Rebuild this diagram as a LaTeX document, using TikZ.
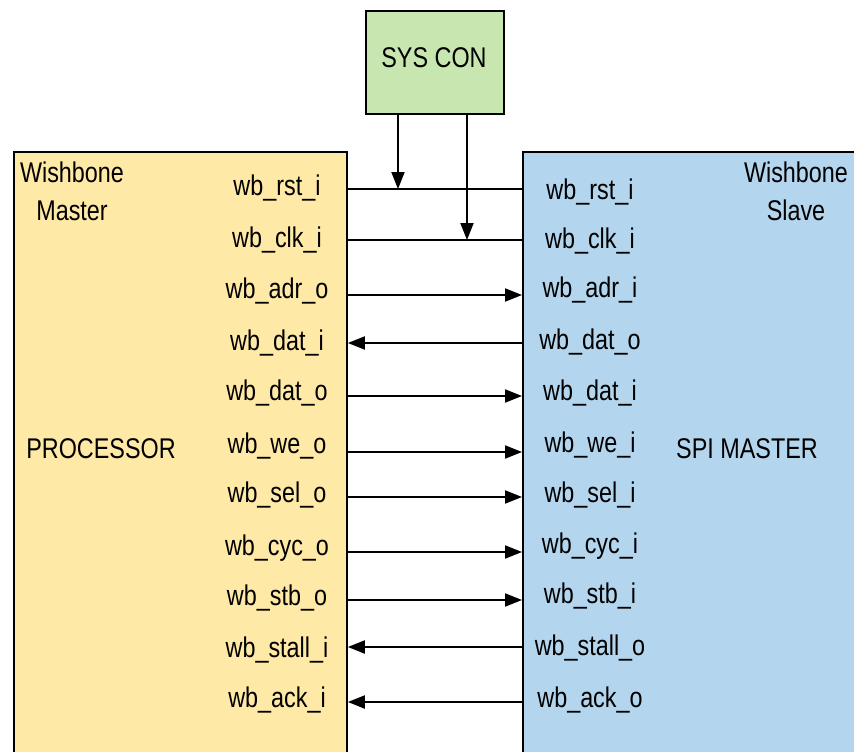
\documentclass[tikz,border=0pt]{standalone}
\usepackage{fontspec}
\setmainfont{Liberation Sans}[FakeStretch=0.82]
\usetikzlibrary{arrows.meta}
\definecolor{masterfill}{HTML}{FFE9A6}
\definecolor{slavefill}{HTML}{B3D5EE}
\definecolor{sysfill}{HTML}{C8E7B0}
\tikzset{
  lbl/.style={inner sep=0pt, anchor=base, font=\fontsize{28.5}{34}\selectfont},
  blk/.style={draw=black, line width=1.8pt, inner sep=0pt, anchor=north west},
  wire/.style={line width=1.9pt},
  arr/.style={wire, -{Triangle[length=17pt,width=13pt]}},
}
\begin{document}
\begin{tikzpicture}[x=1pt,y=-1pt]
\useasboundingbox (0,0) rectangle (854,752);
\clip (0,0) rectangle (854,752);
% blocks
\node[blk, fill=masterfill, minimum width=333pt, minimum height=640pt] (lbox) at (13,151) {};
\node[blk, fill=slavefill, minimum width=360pt, minimum height=640pt] (rbox) at (522,151) {};
\node[blk, fill=sysfill, minimum width=138pt, minimum height=103pt] (sys) at (365,10) {};
\node[lbl] (systxt) at (434,67) {SYS CON};
% titles
\node[lbl] (wm1) at (72,182) {Wishbone};
\node[lbl] (wm2) at (72,220) {Master};
\node[lbl] (ws1) at (796,182) {Wishbone};
\node[lbl] (ws2) at (796,220) {Slave};
\node[lbl] (proc) at (101,458) {PROCESSOR};
\node[lbl] (spi) at (747,458) {SPI MASTER};
% signal labels: left label / left baseline / right label / right baseline
\foreach \lt/\lb/\rt/\rb [count=\i] in {
  wb\_rst\_i/195/wb\_rst\_i/199,
  wb\_clk\_i/247/wb\_clk\_i/248,
  wb\_adr\_o/298/wb\_adr\_i/297,
  wb\_dat\_i/350/wb\_dat\_o/349,
  wb\_dat\_o/400/wb\_dat\_i/400,
  wb\_we\_o/453/wb\_we\_i/452,
  wb\_sel\_o/502/wb\_sel\_i/502,
  wb\_cyc\_o/555/wb\_cyc\_i/553,
  wb\_stb\_o/605/wb\_stb\_i/603,
  wb\_stall\_i/657/wb\_stall\_o/655,
  wb\_ack\_i/707/wb\_ack\_o/707}{
  \node[lbl] (ls\i) at (277,\lb) {\lt};
  \node[lbl] (rs\i) at (590,\rb) {\rt};
}
% connectors
\draw[wire] (lbox.east |- 0,189) -- (rbox.west |- 0,189);
\draw[wire] (lbox.east |- 0,240) -- (rbox.west |- 0,240);
\foreach \ly in {295,396,452,497,552,600}{
  \draw[arr] (lbox.east |- 0,\ly) -- (rbox.west |- 0,\ly);
}
\foreach \ly in {343,647,702}{
  \draw[arr] (rbox.west |- 0,\ly) -- (lbox.east |- 0,\ly);
}
\draw[arr] (sys.south -| 398,0) -- (398,189);
\draw[arr] (sys.south -| 467,0) -- (467,240);
\end{tikzpicture}
\end{document}
